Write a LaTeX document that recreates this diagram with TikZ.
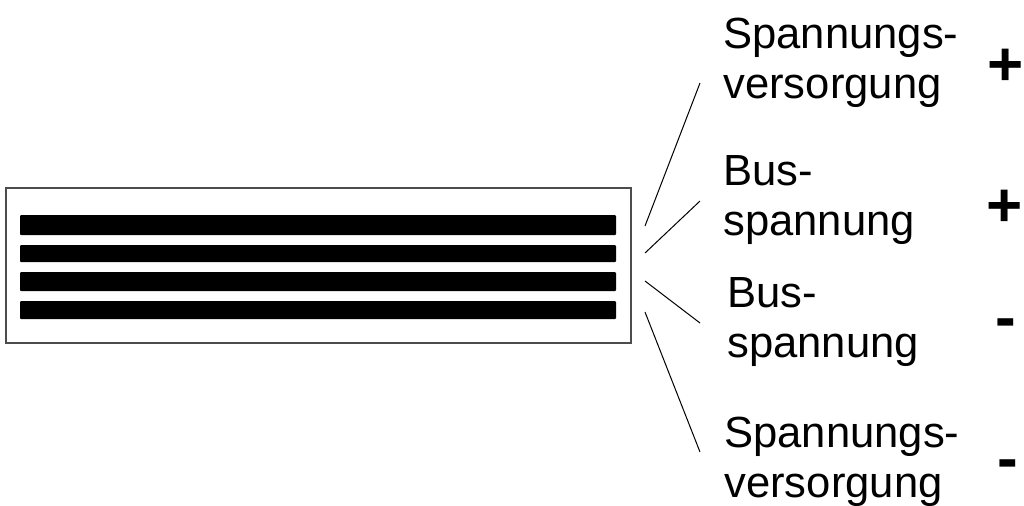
\documentclass[tikz,border=0pt]{standalone}
\usepackage{fontspec}
\setmainfont{Liberation Sans}
\tikzset{
  bar/.style={fill=black,rounded corners=0.5pt},
  lbl/.style={anchor=base west,align=left,inner sep=0pt,font=\fontsize{21.8}{25}\selectfont},
  sgn/.style={anchor=base,inner sep=0pt,font=\fontsize{31}{31}\bfseries\selectfont},
  wire/.style={line width=0.5pt}
}
\begin{document}
\begin{tikzpicture}[x=0.5pt,y=-0.5pt]
\useasboundingbox (0,0) rectangle (1024,505);
\draw[black!70,line width=0.6pt] (6,188) rectangle (631,343);
\fill[bar] (20,215) rectangle (616,235);
\fill[bar] (20,245) rectangle (616,262);
\fill[bar] (20,272) rectangle (616,291);
\fill[bar] (20,301) rectangle (616,319);

\node[lbl] (sv1) at (723,98) {Spannungs-\\versorgung};
\node[lbl] (bus1) at (723,235) {Bus-\\spannung};
\node[lbl] (bus2) at (727,357) {Bus-\\spannung};
\node[lbl] (sv2) at (724,497) {Spannungs-\\versorgung};

\node[sgn] (plus1) at (1006,85) {+};
\node[sgn] (plus2) at (1005,226) {+};
\node[sgn] (minus1) at (1006,338) {-};
\node[sgn] (minus2) at (1008,479) {-};

\coordinate (a1) at (645,226);
\coordinate (a2) at (645,253);
\coordinate (a3) at (645,281);
\coordinate (a4) at (645,312);
\coordinate (b1) at (700,83);
\coordinate (b2) at (700,201);
\coordinate (b3) at (700,323);
\coordinate (b4) at (700,452);
\draw[wire] (a1)--(b1);
\draw[wire] (a2)--(b2);
\draw[wire] (a3)--(b3);
\draw[wire] (a4)--(b4);

\end{tikzpicture}
\end{document}
